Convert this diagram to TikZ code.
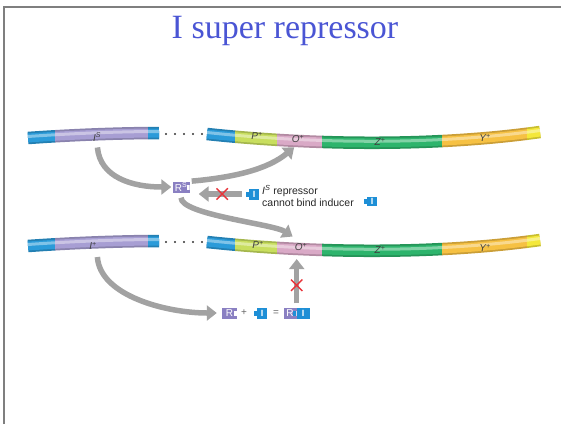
\documentclass[tikz,border=0pt]{standalone}
\usepackage{fontspec}
\setmainfont{Liberation Sans}
\newfontfamily\titlefont{Liberation Serif}
\usetikzlibrary{arrows.meta,shapes.misc}
\definecolor{tblue}{HTML}{2B9BD9}
\definecolor{tpurple}{HTML}{A79ED3}
\definecolor{tlime}{HTML}{C8DE5E}
\definecolor{tpink}{HTML}{D9A9C6}
\definecolor{tgreen}{HTML}{2DB46C}
\definecolor{torange}{HTML}{F6C143}
\definecolor{tyellow}{HTML}{F4E83A}
\definecolor{agray}{HTML}{A2A2A2}
\definecolor{rpurple}{HTML}{8A80C2}
\definecolor{iblue}{HTML}{1E8FD6}
\definecolor{xred}{HTML}{E8343A}
\definecolor{titleblue}{HTML}{4A55D4}
\definecolor{framegray}{HTML}{7F7F7F}

\begin{document}
\begin{tikzpicture}[x=1pt, y=-1pt, every node/.style={inner sep=1pt},
	lbl/.style={font=\fontsize{10}{10}\selectfont\itshape, text=black!75},
	bigarrow/.style={draw=agray, line width=5.5pt, -{Triangle[length=10pt,width=15pt]}},
	repbox/.style={fill=rpurple, text=white, font=\fontsize{10}{10}\selectfont, minimum width=15pt, minimum height=11pt, inner sep=0pt,
		path picture={\fill[white] ([xshift=-3pt,yshift=-2.5pt]path picture bounding box.east) rectangle ([yshift=2.5pt]path picture bounding box.east);}},
	inducer/.style={fill=iblue, text=white, font=\fontsize{9}{9}\selectfont\bfseries, minimum width=10pt, minimum height=11pt, inner sep=0pt},
	redx/.style={cross out, draw=xred, line width=1.4pt, minimum size=10pt, inner sep=0pt, -, shorten <=0pt, shorten >=0pt}]
	\useasboundingbox (0,0) rectangle (561,424);
	\draw[framegray, line width=1.5pt] (4,424) -- (4,7) -- (561,7);
	\node[font=\titlefont\fontsize{34}{34}\selectfont, text=titleblue, anchor=base] (title) at (285,38) {I super repressor};

	% both copies of the operon, coloured piece by piece
	\foreach \dy in {0,108} {
		\foreach \xa/\xb/\col in {20/55/tblue, 55/148/tpurple, 148/165/tblue, 200/235/tblue, 235/277/tlime, 277/322/tpink, 322/442/tgreen, 442/527/torange, 527/545/tyellow} {
			\begin{scope}
				\clip (\xa,0) rectangle (\xb,424);
				\foreach \w/\shade in {12.5pt/82, 9pt/100} {
					\draw[line width=\w, \col!\shade!black] (28,138+\dy) .. controls (70,135+\dy) and (120,133+\dy) .. (159,133+\dy);
					\draw[line width=\w, \col!\shade!black] (207,134+\dy) .. controls (320,146+\dy) and (440,146+\dy) .. (540,132+\dy);
				}
			\end{scope}
		}
		\begin{scope}[yshift=1.5pt]
			\draw[white, opacity=.4, line width=3pt] (28,138+\dy) .. controls (70,135+\dy) and (120,133+\dy) .. (159,133+\dy);
			\draw[white, opacity=.4, line width=3pt] (207,134+\dy) .. controls (320,146+\dy) and (440,146+\dy) .. (540,132+\dy);
		\end{scope}
		\foreach \x in {166,175,184,193,202} \fill[black!80] (\x,134+\dy) circle (1.2);
	}

	\node[lbl] (is) at (97,137) {I\textsuperscript{S}};
	\node[lbl] (pTop) at (257,136) {P\textsuperscript{+}};
	\node[lbl] (oTop) at (298,139) {O\textsuperscript{+}};
	\node[lbl] (zTop) at (380,142) {Z\textsuperscript{+}};
	\node[lbl] (yTop) at (485,138) {Y\textsuperscript{+}};
	\node[lbl] (iplus) at (93,246) {I\textsuperscript{+}};
	\node[lbl] (pBot) at (258,245) {P\textsuperscript{+}};
	\node[lbl] (oBot) at (301,247) {O\textsuperscript{+}};
	\node[lbl] (zBot) at (380,250) {Z\textsuperscript{+}};
	\node[lbl] (yBot) at (485,248) {Y\textsuperscript{+}};

	\node[repbox, minimum width=17pt] (rs) at (181,187) {R\textsuperscript{S}};
	\node[inducer] (ind1) at (254,194) {I};
	\node[anchor=west, align=left, font=\fontsize{10.5}{12}\selectfont, text=black!85] (note) at (261,196) {\textit{I}\textsuperscript{\textit{S}} repressor\\cannot bind inducer};
	\node[inducer, minimum height=9pt] (ind2) at (372,201) {I};

	\node[repbox] (rfree) at (229.5,313) {R};
	\node[font=\fontsize{10}{10}\selectfont, text=black!60] (plus) at (244,313) {+};
	\node[inducer] (ind3) at (262,313) {I};
	\node[font=\fontsize{10}{10}\selectfont, text=black!60] (eq) at (276,313) {=};
	\node[repbox, minimum width=13pt] (riR) at (290,313) {R};
	\node[inducer, minimum width=13pt] (riI) at (303,313) {I};
	\foreach \n in {ind1,ind2,ind3,riI} \fill[iblue] ([yshift=2.5pt]\n.west) rectangle ([xshift=-3pt,yshift=-2.5pt]\n.west);

	\draw[bigarrow, shorten <=5pt, shorten >=1pt] (is.south) .. controls +(3,35) and +(-40,0) .. (rs.west);
	\draw[bigarrow, shorten <=2pt, shorten >=5pt] (rs.north east) .. controls +(45,-4) and +(-30,25) .. (oTop.south);
	\draw[bigarrow, shorten <=7pt, shorten >=9pt] (ind1.west) -- (ind1.west -| rs.east) node[redx, pos=.45] (x1) {};
	\draw[bigarrow, shorten <=5pt, shorten >=10pt] (rs.south) .. controls +(0,22) and +(-28,-18) .. (oBot.north);
	\draw[bigarrow, shorten <=6pt, shorten >=5pt] ([xshift=4pt]iplus.south) .. controls +(3,45) and +(-55,0) .. (rfree.west);
	\draw[bigarrow, shorten <=4pt, shorten >=7pt] (riR.north east) -- (riR.north east |- oBot.south) node[redx, pos=.4] (x2) {};
\end{tikzpicture}
\end{document}
